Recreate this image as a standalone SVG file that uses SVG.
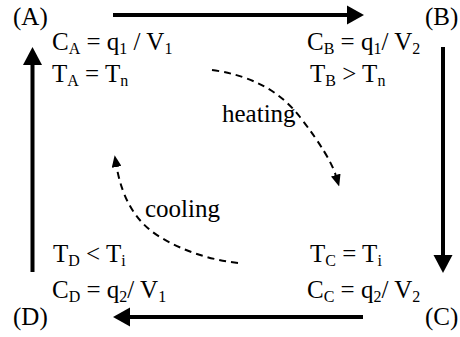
<svg xmlns="http://www.w3.org/2000/svg" width="460" height="337" viewBox="0 0 460 337">
<style>
text{font-family:"Liberation Serif","Times New Roman",serif;font-size:25px;fill:#000}
.s{font-size:16px}
.main{stroke:#000;stroke-width:4;fill:none}
.head{fill:#000;stroke:none}
.dash{stroke:#000;stroke-width:2;fill:none;stroke-dasharray:7 5}
</style>
<defs>
<marker id="dh" markerUnits="userSpaceOnUse" markerWidth="12" markerHeight="10" refX="1" refY="5" orient="auto" viewBox="0 0 12 10">
<path d="M0,0 L12,5 L0,10 Z" fill="#000"/>
</marker>
</defs>
<rect width="460" height="337" fill="#fff"/>
<g id="connectors">
<line class="main" x1="113" y1="15" x2="349" y2="15"/>
<path class="head" d="M347,5.5 L364,15 L347,24.5 Z"/>
<line class="main" x1="443" y1="47" x2="443" y2="257"/>
<path class="head" d="M433.5,255 L452.5,255 L443,273 Z"/>
<line class="main" x1="363" y1="317" x2="128" y2="317"/>
<path class="head" d="M130,307.5 L113,317 L130,326.5 Z"/>
<line class="main" x1="32.5" y1="272" x2="32.5" y2="63"/>
<path class="head" d="M23,65 L42,65 L32.5,47 Z"/>
<path class="dash" d="M212,70 Q270,78 300,117 T336,176" marker-end="url(#dh)"/>
<path class="dash" d="M238,263 Q195,258 160,237 T116.5,166" marker-end="url(#dh)"/>
<text x="222" y="122">heating</text>
<text x="145" y="217">cooling</text>
</g>
<g id="nodeA">
<text x="13" y="25">(A)</text>
<text x="52" y="50">C<tspan class="s" dy="4">A</tspan><tspan dy="-4"> = q</tspan><tspan class="s" dy="4">1</tspan><tspan dy="-4"> / V</tspan><tspan class="s" dy="4">1</tspan></text>
<text x="52" y="82">T<tspan class="s" dy="4">A</tspan><tspan dy="-4"> = T</tspan><tspan class="s" dy="4">n</tspan></text>
</g>
<g id="nodeB">
<text x="425" y="25">(B)</text>
<text x="307" y="50">C<tspan class="s" dy="4">B</tspan><tspan dy="-4"> = q</tspan><tspan class="s" dy="4">1</tspan><tspan dy="-4">/ V</tspan><tspan class="s" dy="4">2</tspan></text>
<text x="310" y="82">T<tspan class="s" dy="4">B</tspan><tspan dy="-4"> &gt; T</tspan><tspan class="s" dy="4">n</tspan></text>
</g>
<g id="nodeC">
<text x="425" y="325">(C)</text>
<text x="310" y="262">T<tspan class="s" dy="4">C</tspan><tspan dy="-4"> = T</tspan><tspan class="s" dy="4">i</tspan></text>
<text x="307" y="298">C<tspan class="s" dy="4">C</tspan><tspan dy="-4"> = q</tspan><tspan class="s" dy="4">2</tspan><tspan dy="-4">/ V</tspan><tspan class="s" dy="4">2</tspan></text>
</g>
<g id="nodeD">
<text x="13" y="325">(D)</text>
<text x="53" y="262">T<tspan class="s" dy="4">D</tspan><tspan dy="-4"> &lt; T</tspan><tspan class="s" dy="4">i</tspan></text>
<text x="52" y="298">C<tspan class="s" dy="4">D</tspan><tspan dy="-4"> = q</tspan><tspan class="s" dy="4">2</tspan><tspan dy="-4">/ V</tspan><tspan class="s" dy="4">1</tspan></text>
</g>
</svg>
